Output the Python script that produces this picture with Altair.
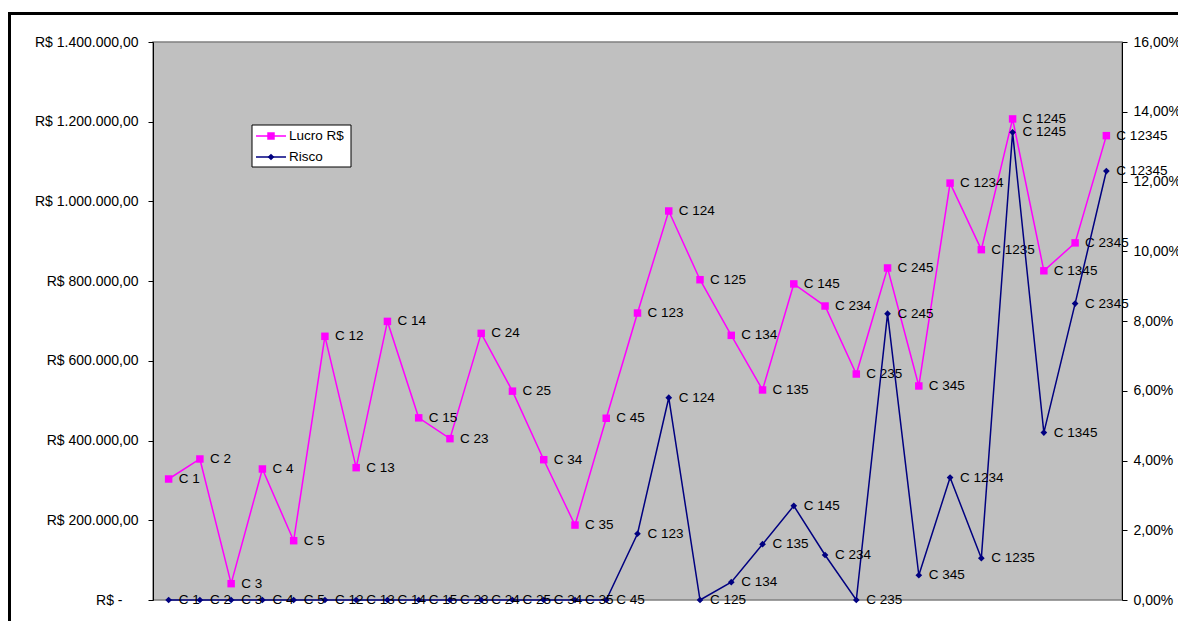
import altair as alt
import pandas as pd

# Scenario names (combinations) along the horizontal axis
cenarios = ["C 1", "C 2", "C 3", "C 4", "C 5", "C 12", "C 13", "C 14", "C 15", "C 23",
            "C 24", "C 25", "C 34", "C 35", "C 45", "C 123", "C 124", "C 125", "C 134",
            "C 135", "C 145", "C 234", "C 235", "C 245", "C 345", "C 1234", "C 1235",
            "C 1245", "C 1345", "C 2345", "C 12345"]

# Profit in R$ for each scenario (left axis)
lucro = [303600, 353800, 41000, 328700, 148800, 661600, 332000, 699000, 457000, 404800,
         669000, 524000, 352000, 188000, 456000, 720000, 976000, 803600, 664000,
         527000, 793000, 737600, 567000, 833000, 537000, 1046000, 879000,
         1207000, 826000, 896000, 1165000]

# Risk as a fraction for each scenario (right axis)
risco = [0.0, 0.0, 0.0, 0.0, 0.0, 0.0, 0.0, 0.0, 0.0, 0.0,
         0.0, 0.0, 0.0, 0.0, 0.0, 0.019, 0.058, 0.0, 0.0051,
         0.016, 0.027, 0.0129, 0.0, 0.0821, 0.0071, 0.0351, 0.012,
         0.1341, 0.048, 0.085, 0.123]

series = ["Lucro R$", "Risco"]
cores = ["#FF00FF", "#000080"]

lucro_ticks = [0, 200000, 400000, 600000, 800000, 1000000, 1200000, 1400000]
risco_ticks = [0.0, 0.02, 0.04, 0.06, 0.08, 0.10, 0.12, 0.14, 0.16]

FONT = "Liberation Sans"

df = pd.DataFrame({"cenario": cenarios, "lucro": lucro, "risco": risco})

x_enc = alt.X("cenario:O", sort=cenarios, axis=None,
              scale=alt.Scale(type="point", padding=0.5))

base = alt.Chart(df).encode(x=x_enc)

# Brazilian currency format; zero shown as "R$ -" (accounting style)
brl_expr = ("datum.value == 0 ? 'R$ -' : 'R$ ' + "
            "replace(replace(replace(format(datum.value, ',.2f'), regexp(',', 'g'), '#'),"
            " regexp('\\\\.', 'g'), ','), regexp('#', 'g'), '.')")
pct_expr = "replace(format(datum.value, '.2%'), '.', ',')"

y_lucro = alt.Y("lucro:Q",
                scale=alt.Scale(domain=[0, 1400000], nice=False, zero=True),
                axis=alt.Axis(orient="left", values=lucro_ticks, labelExpr=brl_expr,
                              title=None, tickSize=5,
                              labelPadding={"condition": {"test": "datum.value == 0",
                                                          "value": 26},
                                            "value": 10}))
y_risco = alt.Y("risco:Q",
                scale=alt.Scale(domain=[0, 0.16], nice=False, zero=True),
                axis=alt.Axis(orient="right", values=risco_ticks, labelExpr=pct_expr,
                              title=None, labelPadding=6, tickSize=5))

lucro_line = base.mark_line(color=cores[0], strokeWidth=1.5).encode(y=y_lucro)
lucro_pts = base.mark_point(shape="square", filled=True, size=56, color=cores[0],
                            opacity=1).encode(y=y_lucro)
lucro_txt = base.mark_text(align="left", baseline="middle", dx=10, fontSize=13.5,
                           font=FONT, color="black").encode(y=y_lucro, text="cenario:N")

risco_line = base.mark_line(color=cores[1], strokeWidth=1.5).encode(y=y_risco)
risco_pts = base.mark_point(shape="diamond", filled=True, size=45, color=cores[1],
                            opacity=1).encode(y=y_risco)
risco_txt = base.mark_text(align="left", baseline="middle", dx=10, fontSize=13.5,
                           font=FONT, color="black").encode(y=y_risco, text="cenario:N")

lucro_layer = alt.layer(lucro_line, lucro_pts, lucro_txt)
risco_layer = alt.layer(risco_line, risco_pts, risco_txt)

# Legend box drawn inside the plot area
leg_box = alt.Chart().mark_rect(fill="white", stroke="black", strokeWidth=1).encode(
    x=alt.value(99), x2=alt.value(198), y=alt.value(83), y2=alt.value(125))
leg_parts = [leg_box]
for i, (nome, cor, forma, tam) in enumerate(zip(series, cores, ["square", "diamond"], [56, 45])):
    yy = 94 + 21 * i
    leg_parts.append(alt.Chart().mark_rule(color=cor, strokeWidth=1.5).encode(
        x=alt.value(103), x2=alt.value(133), y=alt.value(yy)))
    leg_parts.append(alt.Chart().mark_point(shape=forma, filled=True, size=tam, color=cor,
                                            opacity=1).encode(x=alt.value(118), y=alt.value(yy)))
    leg_parts.append(alt.Chart().mark_text(text=nome, align="left", baseline="middle",
                                           fontSize=13.5, font=FONT, color="black").encode(
        x=alt.value(136), y=alt.value(yy)))

# Outer chart frame
frame = alt.Chart().mark_rect(fillOpacity=0, stroke="black", strokeWidth=3).encode(
    x=alt.value(-143.5), x2=alt.value(1100), y=alt.value(-28.5), y2=alt.value(700))

chart = alt.layer(
    lucro_layer, risco_layer, *leg_parts, frame
).resolve_scale(
    y="independent"
).properties(
    width=969, height=558,
    autosize=alt.AutoSizeParams(type="none"),
    padding={"left": 153, "top": 42, "right": 56, "bottom": 21},
    background="white",
).configure_view(
    fill="#C0C0C0", stroke="#808080", strokeWidth=1.5
).configure_axis(
    labelFont=FONT, labelFontSize=14, labelColor="black",
    domainColor="black", tickColor="black", grid=False
)

chart.save("out.html", embed_options={"renderer": "svg", "actions": False})
